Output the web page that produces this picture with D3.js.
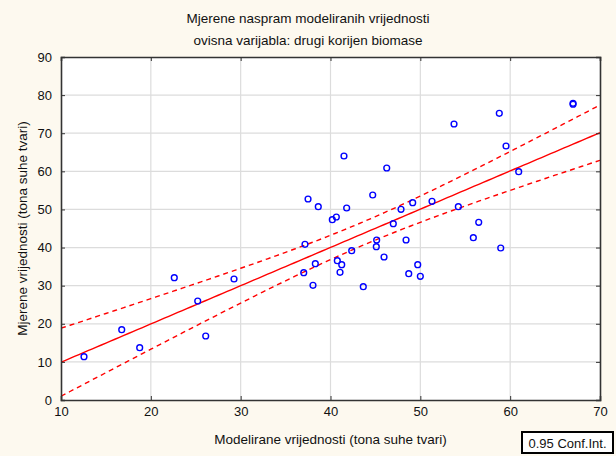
<!DOCTYPE html>
<html>
<head>
<meta charset="utf-8">
<script src="https://cdn.jsdelivr.net/npm/d3@7"></script>
<style>
  html, body { margin: 0; padding: 0; background: #fdf9ef; }
  svg { display: block; }
  text { font-family: "Liberation Sans", Arial, sans-serif; fill: #111; }
</style>
</head>
<body>
<svg id="chart" width="616" height="456"></svg>
<script>
// Modelled (predicted) values
const predicted = [12.56, 16.76, 18.76, 22.61, 25.22, 26.11, 29.26, 41.50, 46.26, 37.50,
  38.64, 44.70, 41.80, 40.20, 40.65, 47.85, 49.15, 51.30, 54.23, 46.99,
  37.16, 45.14, 45.10, 48.41, 42.36, 45.96, 38.31, 40.76, 41.25, 37.02,
  41.06, 49.71, 48.71, 50.00, 38.05, 43.65, 67.00, 67.00, 58.79, 53.75,
  59.54, 60.95, 56.50, 55.90, 58.95];
// Measured values
const measured = [11.36, 18.45, 13.72, 32.09, 25.98, 16.79, 31.75, 64.02, 60.88, 52.74,
  50.72, 53.79, 50.38, 47.31, 48.02, 50.04, 51.77, 52.14, 50.72, 46.26,
  40.86, 41.98, 40.23, 41.98, 39.18, 37.52, 35.76, 36.55, 35.50, 33.40,
  33.51, 35.50, 33.14, 32.46, 30.10, 29.73, 77.85, 77.60, 75.23, 72.42,
  66.65, 59.91, 46.63, 42.59, 39.88];
const xTicks = [10, 20, 30, 40, 50, 60, 70];
const yTicks = [0, 10, 20, 30, 40, 50, 60, 70, 80, 90];
const titleLines = ["Mjerene naspram modeliranih vrijednosti", "ovisna varijabla: drugi korijen biomase"];
const xLabel = "Modelirane vrijednosti (tona suhe tvari)";
const yLabel = "Mjerene vrijednosti (tona suhe tvari)";
const legendText = "0.95 Conf.Int.";

const svg = d3.select("#chart");
const M = { left: 61, right: 600, top: 57, bottom: 400 };
const x = d3.scaleLinear().domain([10, 70]).range([M.left, M.right]);
const y = d3.scaleLinear().domain([0, 90]).range([M.bottom, M.top]);

// Background
svg.append("rect").attr("width", 616).attr("height", 456).attr("fill", "#fdf9ef");
svg.append("rect").attr("x", M.left).attr("y", M.top)
  .attr("width", M.right - M.left).attr("height", M.bottom - M.top).attr("fill", "#ffffff");

// Grid
const grid = svg.append("g").attr("stroke", "#dcdcdc").attr("stroke-width", 1.2);
xTicks.slice(1, -1).forEach(t => grid.append("line")
  .attr("x1", x(t)).attr("x2", x(t)).attr("y1", M.top).attr("y2", M.bottom));
yTicks.slice(1, -1).forEach(t => grid.append("line")
  .attr("x1", M.left).attr("x2", M.right).attr("y1", y(t)).attr("y2", y(t)));

// Regression + 95% CI computed from data
const n = predicted.length;
const mx = d3.mean(predicted), my = d3.mean(measured);
let sxx = 0, sxy = 0;
for (let i = 0; i < n; i++) { sxx += (predicted[i] - mx) ** 2; sxy += (predicted[i] - mx) * (measured[i] - my); }
const b = sxy / sxx, a = my - b * mx;
let sse = 0;
for (let i = 0; i < n; i++) sse += (measured[i] - (a + b * predicted[i])) ** 2;
const s = Math.sqrt(sse / (n - 2));
const tcrit = 2.0167;
const xsLine = d3.range(10, 70.01, 0.5);
const half = xv => tcrit * s * Math.sqrt(1 / n + (xv - mx) ** 2 / sxx);

svg.append("clipPath").attr("id", "plotclip").append("rect")
  .attr("x", M.left).attr("y", M.top).attr("width", M.right - M.left).attr("height", M.bottom - M.top);

const line = d3.line().x(d => x(d[0])).y(d => y(d[1]));
const pg = svg.append("g").attr("clip-path", "url(#plotclip)");
pg.append("path").datum(xsLine.map(v => [v, a + b * v]))
  .attr("d", line).attr("fill", "none").attr("stroke", "#ff0000").attr("stroke-width", 1.4);
pg.append("path").datum(xsLine.map(v => [v, a + b * v + half(v)]))
  .attr("d", line).attr("fill", "none").attr("stroke", "#ff0000").attr("stroke-width", 1.4).attr("stroke-dasharray", "5,4");
pg.append("path").datum(xsLine.map(v => [v, a + b * v - half(v)]))
  .attr("d", line).attr("fill", "none").attr("stroke", "#ff0000").attr("stroke-width", 1.4).attr("stroke-dasharray", "5,4");

// Points
svg.append("g").selectAll("circle").data(d3.zip(predicted, measured)).join("circle")
  .attr("cx", d => x(d[0])).attr("cy", d => y(d[1])).attr("r", 2.9)
  .attr("fill", "none").attr("stroke", "#0000ff").attr("stroke-width", 1.4);

// Axes (ticks inward on all sides)
const axB = svg.append("g").attr("transform", `translate(0,${M.bottom})`)
  .call(d3.axisBottom(x).tickValues(xTicks).tickSize(-4).tickPadding(7));
const axT = svg.append("g").attr("transform", `translate(0,${M.top})`)
  .call(d3.axisTop(x).tickValues(xTicks).tickSize(-4).tickFormat(""));
const axL = svg.append("g").attr("transform", `translate(${M.left},0)`)
  .call(d3.axisLeft(y).tickValues(yTicks).tickSize(-4).tickPadding(9));
const axR = svg.append("g").attr("transform", `translate(${M.right},0)`)
  .call(d3.axisRight(y).tickValues(yTicks).tickSize(-4).tickFormat(""));
[axB, axT, axL, axR].forEach(g => {
  g.select(".domain").attr("stroke", "#333").attr("stroke-width", 1.6);
  g.selectAll(".tick line").attr("stroke", "#333");
  g.selectAll("text").style("font-size", "13px").attr("fill", "#111")
    .style("font-family", "'Liberation Sans', Arial, sans-serif");
});

// Titles
titleLines.forEach((t, i) => svg.append("text").attr("x", 308).attr("y", 23 + i * 22)
  .attr("text-anchor", "middle").style("font-size", "13.5px").text(t));
svg.append("text").attr("x", (M.left + M.right) / 2).attr("y", 444)
  .attr("text-anchor", "middle").style("font-size", "13.5px").text(xLabel);
svg.append("text").attr("transform", `translate(27,${(M.top + M.bottom) / 2}) rotate(-90)`)
  .attr("text-anchor", "middle").style("font-size", "13.5px").text(yLabel);

// Legend box
const lg = svg.append("g");
lg.append("rect").attr("x", 522).attr("y", 432).attr("width", 91).attr("height", 21)
  .attr("fill", "#ffffff").attr("stroke", "#000").attr("stroke-width", 2);
lg.append("text").attr("x", 567.5).attr("y", 447.5).attr("text-anchor", "middle")
  .style("font-size", "13px").text(legendText);
</script>
</body>
</html>
